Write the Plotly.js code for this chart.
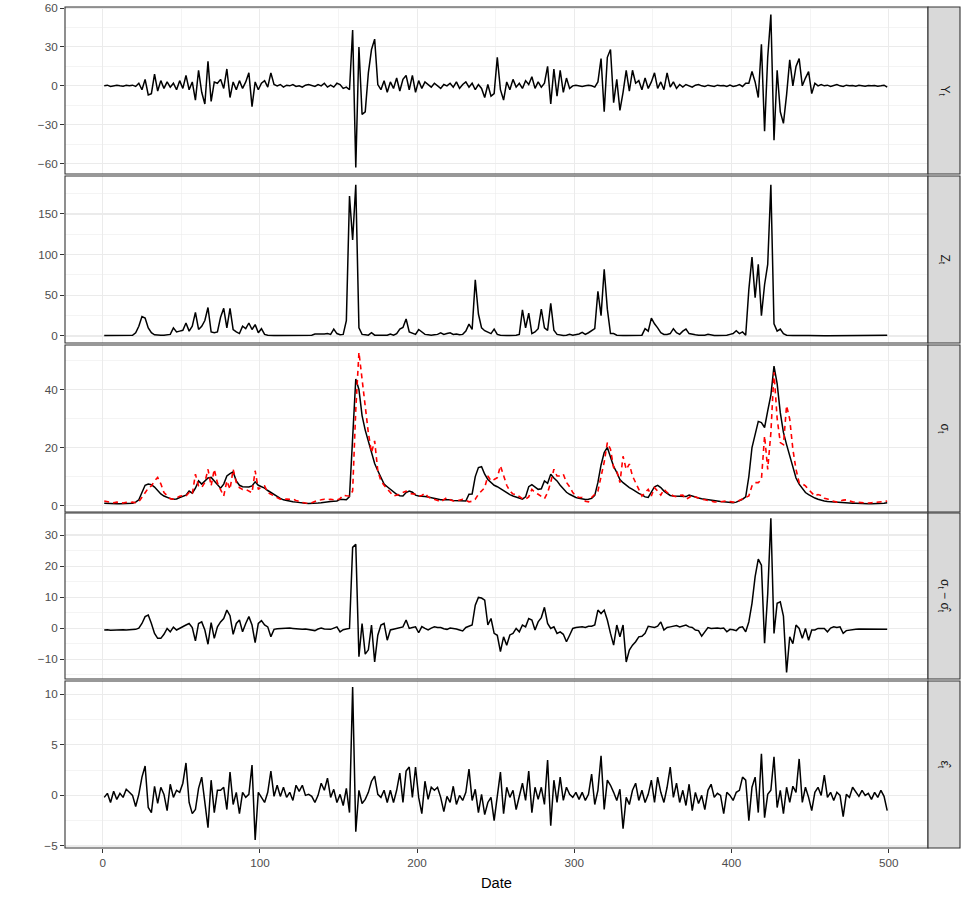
<!DOCTYPE html>
<html><head><meta charset="utf-8">
<script src="https://cdn.plot.ly/plotly-3.0.1.min.js"></script>
<style>html,body{margin:0;padding:0;background:#fff;} #chart{width:969px;height:901px;}</style>
</head><body><div id="chart"></div>
<script>
// Values sampled at dates 1, 3, 5, ..., 499
const Y_t = [0,0.5,-0.5,0,0.5,0,-0.3,0.4,0,0.5,-0.5,
 2,-3,5,-7,-6,9,-4,4,
 -2,3,-1,2,-3,4,-2,8,-3,3,
 -11,12,-5,-14,19,-12,3,2,5,-2,13,-9,3,-3,4,-2,3,10,-16,3,-3,2,4,-1,10,1,
 0,1,-1,0.5,0,1,-0.5,0,-1,0.5,1,0,-0.5,1,0,2,-1,0.5,-1,2,
 1,-2,-1,-3,43,-63,30,-22,-20,10,28,36,1,
 -3,4,-5,3,-2,6,-4,5,8,-3,8,-5,4,-2,3,
 1,-1,2,0,-2,1,0,2,-1,3,-2,1,3,-1,2,-3,1,
 -2,-9,1,-8,-6,22,-3,-11,
 3,-3,5,-1,2,-2,4,1,7,-2,3,-1,2,
 15,-14,13,-8,12,-5,6,-2,
 0,0.5,0,-0.5,0,0.5,0,-1,
 3,21,-20,22,28,-13,5,-19,-5,12,-4,12,2,
 4,-3,6,-2,3,10,-2,3,-3,10,-1,3,-2,
 1,-1,1,0,-1,0.5,1,0,-0.5,0.5,0,-0.5,0.5,0,0.3,-0.5,0.5,-0.5,0,1,-0.5,2,
 2,11,3,-9,32,-35,22,55,-42,12,-20,-29,-7,20,0,15,21,0,6,11,-6,2,
 0,1,0,0.5,-0.5,0,1,0,-0.5,0.5,0,0.3,-0.3,0.5,0,-0.3,0.3,0,0.3,-0.3,0,0.5,-1];

const Z_t = [0.5,0.5,0.5,0.5,0.5,0.5,0.5,0.5,0.6,0.8,
 4,12,24,22,10,4,1.5,
 1,0.8,1,1.5,2,
 10,5,6,7,16,6,12,29,8,12, 19,35,5,4,5,23,34,10,34,8, 5,3,12,9,16,8,14,4,9,2,
 1,0.5,0.5,0.5,0.5,0.5,0.5,0.5,0.5,0.5,0.5,0.5,0.5,0.5,1,
 2.5,2.5,2,2.5,3,2,8.5,3,1.5,2,19,
 172,118,186,10,2,
 1.5,1,4,1,1,1,1.5,1,2.5,1, 3,8.5,10.5,21,5,3,2,8,5,2, 1.5,1,1.5,2,4,2,3,4,2,2.5, 1.5,2,6,14.6,8,69,27,10,6.5,5, 3,8.5,
 2,1,0.5,0.5,0.5,0.5,1,2,
 32,10,28,3,5,9,33,10,7,40,7,2,
 1,0.5,1,2,1,1.5,2.5,4.5,2,4,6.5,
 9,55,25,82,33,3,
 3,1,0.5,0.5,0.5,0.5,0.5,0.5,1,1,
 9,6,22,15,10,4,2,2,3,9, 4,2,6,8.5,3,2,1.5,1,1,1, 2,1,0.5,0.5,0.5,1,1,2,3,6.5, 3,5,1,
 57,97,47,88,25,63,88,186,15,6,8.5,3,1,0.5,
 0.5,0.5,0.8,0.5,0.5,0.5,0.3,0.3,0.3,0.3,0.3,0.3,0.3,0.3,0.3,1.2,0.3,0.3,0.3,0.3,0.3,0.3,0.3,0.3,0.3,0.3,0.3,0.3,0.3,0.8,1];

const sigma_t = [0.8,0.7,0.6,0.6,0.6,0.6,0.6,0.6,0.7,0.8,1.2,
 2,4.5,7,7.4,7.2,6.4,5,4,3.3,2.8,2.4,2.2,
 2.3,2.8,3.2,3.6,5,4.3,6,8.5,7.4,8.5, 9.5,9.7,8.5,7.2,6,7.4,10.2,11,11.6,8.5, 7,6.5,6.4,6.4,6.8,8.2,7,6.5,6,5.2, 4.5,3.8,
 3.1,2.5,2,1.7,1.5,1.3,1.2,1,0.9,0.8,0.7,0.7,0.8,0.9,1,1.2,1.3,1.4,1.5,1.6,2.2,2.1,2,3.1,
 22,43.6,40,31,26,22,17.7,14.5,12,9.5,7.4,6.5,5.6,4.6,3.9,3.4,3.3,4.5,5,4.6,3.6,3.3,3.1,
 3.1,3,2.7,2.4,2.2,2,2,2.1,2,1.8,1.7,1.6,1.6,1.6,3.9,4,
 10,13.1,13.4,10.8,9,7.9,7,6.5,5.8,5,4.5,3.8,3.3,2.9,2.5,2.2,3,6.5,
 7.2,6.5,5.6,5.8,8.5,7.7,10.8,9.5,8.5,7,5.6,4.6,3.9,3.3,2.8,2.5,2.2,2.1,2.2,2.5,3.5,
 8,14,18.3,20,17,13.5,11.4,9,7.9,7,6.2,5.6,4.8,4.2,3.7,3,2.8,4.5,
 6.5,7,6.2,5,4.3,3.5,3.3,3.3,3.3,3.2,3.1,3.6,3.2,2.8,2.6,2.4,2.2,2,1.8,1.6,1.5,1.4,1.3,1.2,1.1,1,1.2,1.6,2.2,3,
 10,20,24,29,28.6,26.9,32.6,38,48,42,32,25.2,21,17.1,13,9.5,
 7.4,5.8,4.5,3.8,3.1,2.6,2.2,1.8,1.6,1.4,1.3,1.2,1.1,1,1,0.9,0.9,0.8,0.8,0.7,0.7,0.7,0.6,0.6,0.6,0.6,0.7,0.8,1];

const sigma_hat = [1.6,1.3,1.1,1,1.2,1,0.9,1.1,1,1.2,1,1.3,
 2.8,4.5,6,6.8,8.5,9.7,7.5,4.5,3.5,2.4,2.2,2.8,3.2,3.5,3.3,4.5,3.9,
 10.8,6.8,6.2,8,12.5,6.8,12.5,7.8,5.5,3.3, 8.5,5.6,12.5,8,6.2,5.6,5.6,5,4.4,12, 5.6,6.5,6.8,4.5,3.9,3.3,2.7,
 2.2,2.1,2.3,2.2,2.2,1.8,1.4,1.1,0.9,0.8,1,1.5,1.9,2,2.2,2,2.2,2,1.9,2.4,3.6,3.4,3.3,
 5,33,52.8,43.6,34,25,18.3,22.3,12,8.5,
 7,5.6,4.5,3.3,3.5,3.9,4.5,5,4.2,4, 3.9,3.3,3.5,4.3,3,2.5,2.2,1.8,1.3,2, 2.8,2,1.6,1.6,2,2.2,1.8,1.3,1.5,
 2.2,3.9,5,6.2,10.2,8.5,9,9.6,13.7,10.2, 7,5,4,3.9,3,2.4,2.2,3,5.6,4.5, 3.9,3,2.4,4.5,8,12.5,10.2,10.2,10.8,8, 6.5,4.5,
 3.3,2.8,2.8,1.5,1.3,2.8,3.9,5,10,15, 21.7,19.4,13.1,12,7.9,17,12.5,14.3,10.2,8, 5.6,3.3,4.5,5.6,3.3,6.2,5,3.6,5.6,
 4.5,4,3.3,3,3.5,3.6,2.2,2.8,3.6,3,2.5,2.2,2,1.7,1.4,1.3,1.2,1.3,1.5,1.6,1.4,1.2,1.3,1.8,2.4,3,
 3.3,6.8,7.9,7.9,9,24,12.5,25,45.9,30,21.7,21,34.4,29.8,19.4,12.5,7.9,7.5,6.8,5.5,4.5,3.3,3.8,
 3.5,2.5,2.3,1.8,1.5,1.2,1.5,1.9,2,1.6,1.3,1.2,1.1,1,1,0.9,1,1.1,1,1.2,1.4,1.6];

const sigma_diff = [-0.6,-0.5,-0.7,-0.6,-0.5,-0.6,-0.5,-0.6,-0.5,-0.5,-0.4,0,
 1.5,3.7,4.2,1.5,-1.7,-3.3,-3.3,-2,-0.1,-1.2,0.3,-0.6,0,0.5,1,1.5,0.2,
 -4.1,1.5,2,-0.6,-5.2,1.8,-3.3,0.4,2,3.1, 5.8,4,-2,1.5,2.6,-1.2,1.5,3.7,1,-4.7, 1.5,2.4,1,0.4,-2.8,-0.4,-0.2,
 -0.1,0,0.1,0,-0.1,-0.2,-0.4,-0.4,-0.3,-0.4, -0.6,-0.8,-0.3,0,-0.3,-0.3,-0.4,0,0.4,-1.2, -0.5,-0.3,-0.1,
 26,27,-9.2,1.5,-8.4,-7,1,-10.9,-2.3,1,1.5,-3.9,
 -0.6,-0.3,-0.1,0.2,0.4,2.6,-0.1,0.2,0.4,-1.5, 0.5,-0.1,-0.6,0,0.4,0.2,0.2,-0.2,-0.4,0, -0.1,-0.3,-0.6,-0.9,0.2,0.6,1,
 7.4,9.9,9.7,9,1,3.1,-1.7,-2.3,-7.6,-2.8,-5.5,-2.2,-1.7,-0.1,-1.2,1,0.4,3.1,
 2.6,-0.6,2,3.4,6.7,1.5,-0.1,0.4,-1.7,-1.2,-2,-4.4,-2.3,-0.1,0.2,0.4,0.4,0.2,0.6,0.6,1,
 5.8,4.7,5.8,2.6,-1.7,-5.5,1,-2.8,1,-10.9,-7.1,-5.5,-4.4,-2.8,-2.6,-1.7,0.6,0.4,0.2,0.6,2,-0.6,
 0.2,0.4,0.6,0.8,0.4,0.6,1,0.4,0.2,-0.6, -0.8,-2.6,-1,0.2,-0.1,0,0,-0.1,0,-1.2, -0.4,-0.5,-0.8,0.2,0.4,-1.2,
 2,8,16.6,22.2,20.3,-4.9,11,35.4,-1.7,8,8.5,3.9,-14.3,-2.8,-5,1,
 -0.1,-3.3,-0.1,-3.9,-0.6,-0.6,-0.1,-0.1,-0.1,-1.2, 0,0.4,0.2,0.4,-1.7,-0.8,-0.6,-0.4,-0.4,-0.3, -0.3,-0.3,-0.4,-0.4,-0.4,-0.4,-0.4,-0.4,-0.4];

const eps_hat = [-0.2,0.2,-0.7,0.4,-0.4,0.2,-0.2,0.6,0.3,0,-1.1,0.1,
 1.8,2.9,-1.2,-1.7,0.9,-0.8,0.8,0.1,-1.5,1.1,-0.2,0.5,0.3,1.2,3.2,-0.7,-1.8,
 -1.4,0.7,1.8,-0.7,-3.2,1.5,-1.7,0.5,0.5,0.8, -1.4,2.3,-0.9,0.3,-1.8,0.3,-0.2,0.1,3,-4.4, 0.3,-0.2,-0.7,0.3,2.4,-0.1,1,
 -0.1,0.8,-0.2,0.3,-0.5,1,0.4,1,0,0.1, -0.1,-0.7,0,1.2,0.5,1.7,-0.2,0.6,-0.7,0.1, -1,0.7,-1.7,
 10.7,-3.6,0.5,-0.8,-0.4,0.3,1.4,1.9,0.1,-0.2,0.5,
 -0.7,0.5,-0.7,0.5,2.2,-0.7,2.4,2.8,-0.2,2.8, -0.2,-1.8,1.4,-0.4,0.8,0.5,0.8,-0.2,-1.6,-0.1, -0.7,0.9,-0.9,0,-0.5,0.3,2.6,-0.5,0.6,-1.7, 0.1,-1.9,-0.7,-0.2,-2.5,0.1,
 2.3,-1.8,0.8,-0.2,0.5,-1.4,-0.2,1.2,-0.5,2.4, -1.7,0.8,-0.4,0.8,-0.9,3.5,-3,1.5,-0.7,1.8, -0.5,0.8,0.1,-0.2,0.3,-0.4,0.3,-0.5,0.1,2.1, -0.9,0.5,
 3.9,-1.4,1.5,1,0.3,-0.5,0.6,-3.3,-0.2,-0.9, 0.5,1.2,-0.5,0.5,-0.7,0.1,1.5,-0.7,1.8,0.3, -0.7,0.8,2.8,-0.2,1.2,-0.7,0.5,-1,1.1,-1.5, 0.3,-0.8,0,-1.4,0.5,1.1,-0.2,0.2,0,-1.8, 0.3,0,-0.5,0.3,0.5,1.8,1.5,
 -2.5,0.8,1.8,-1.7,4.1,-2.2,0.1,0.5,3.8,-1.2, 0.5,-1.8,0.8,-0.7,0.9,0.3,3.6,-0.7,0.8,-0.2,
 -1.5,0.3,0.8,0,2,-0.2,0.3,-0.5,0.3,0, -2.1,0.1,-0.2,0.8,0.3,-0.1,0.5,0,0.2,-0.4, 0.3,-0.2,0.5,-0.1,-1.5];

const stripLabels = ['Y<sub>t</sub>', 'Z<sub>t</sub>', 'σ<sub>t</sub>', 'σ<sub>t</sub> − σ\u0302<sub>t</sub>', 'ε\u0302<sub>t</sub>'];
const xTitle = 'Date';

const dates = Y_t.map((_, i) => 1 + 2 * i);

// layout geometry
const panelDomains = [[0.80143,1],[0.60048,0.79905],[0.39952,0.59810],[0.20095,0.39834],[0,0.19857]];
const yRanges = [[-68,60.8],[-8.6,196.7],[-2.2,55.3],[-16.4,37.1],[-5.2,11.3]];
const yDticks = [30,50,20,10,5];
const panelSeries = [[Y_t],[Z_t],[sigma_t, sigma_hat],[sigma_diff],[eps_hat]];
const PLOT_W = 863;

const FONT = 'Liberation Sans, Arial, Helvetica, sans-serif';
const traces = [];
const layout = {
  width: 969, height: 901,
  margin: {l: 65, r: 41, t: 7, b: 53},
  paper_bgcolor: '#FFFFFF', plot_bgcolor: '#FFFFFF',
  font: {family: FONT, size: 11.7, color: '#4D4D4D'},
  showlegend: false,
  shapes: [], annotations: []
};

panelSeries.forEach((series, p) => {
  const k = p + 1;
  const xa = k === 1 ? 'x' : 'x' + k;
  const ya = k === 1 ? 'y' : 'y' + k;
  series.forEach((vals, s) => {
    const isHat = (p === 2 && s === 1);
    traces.push({
      x: dates, y: vals, xaxis: xa, yaxis: ya, type: 'scatter', mode: 'lines',
      line: isHat ? {color: '#FF0000', width: 1.6, dash: '5px,4px'} : {color: '#000000', width: 1.5},
      hoverinfo: 'skip'
    });
  });
  const isBottom = (k === 5);
  const xaxis = {
    domain: [0, 1], anchor: ya, range: [-23.95, 524.95],
    tickmode: 'linear', tick0: 0, dtick: 100,
    showgrid: true, gridcolor: '#EBEBEB', gridwidth: 1.1,
    minor: {tick0: 0, dtick: 50, showgrid: true, gridcolor: '#EBEBEB', gridwidth: 0.55},
    zeroline: false, showline: false,
    ticks: isBottom ? 'outside' : '', ticklen: 4, tickwidth: 1, tickcolor: '#333333',
    showticklabels: isBottom,
    tickfont: {family: FONT, size: 11.7, color: '#4D4D4D'},
    fixedrange: true
  };
  if (isBottom) xaxis.title = {text: xTitle, font: {family: FONT, size: 14.7, color: '#000000'}, standoff: 9};
  layout[k === 1 ? 'xaxis' : 'xaxis' + k] = xaxis;
  layout[k === 1 ? 'yaxis' : 'yaxis' + k] = {
    domain: panelDomains[p], anchor: xa, range: yRanges[p],
    tickmode: 'linear', tick0: 0, dtick: yDticks[p],
    showgrid: true, gridcolor: '#EBEBEB', gridwidth: 1.1,
    minor: {tick0: 0, dtick: yDticks[p] / 2, showgrid: true, gridcolor: '#EBEBEB', gridwidth: 0.55},
    zeroline: false, showline: false,
    ticks: 'outside', ticklen: 4, tickwidth: 1, tickcolor: '#333333',
    tickfont: {family: FONT, size: 11.7, color: '#4D4D4D'},
    fixedrange: true
  };
  // panel border
  layout.shapes.push({type: 'rect', xref: xa + ' domain', yref: ya + ' domain', x0: 0, x1: 1, y0: 0, y1: 1,
    line: {color: '#333333', width: 1.1}, fillcolor: 'rgba(0,0,0,0)', layer: 'above'});
  // strip
  layout.shapes.push({type: 'rect', xref: 'paper', yref: ya + ' domain', x0: 1, x1: 1 + 32 / PLOT_W, y0: 0, y1: 1,
    line: {color: '#333333', width: 1.1}, fillcolor: '#D9D9D9', layer: 'above'});
  layout.annotations.push({xref: 'paper', yref: ya + ' domain', x: 1 + 16 / PLOT_W, y: 0.5,
    text: stripLabels[p], showarrow: false, textangle: 90, xanchor: 'center', yanchor: 'middle',
    font: {family: FONT, size: 12, color: '#1A1A1A'}});
});

Plotly.newPlot('chart', traces, layout, {displayModeBar: false, staticPlot: true});
</script>
</body></html>
